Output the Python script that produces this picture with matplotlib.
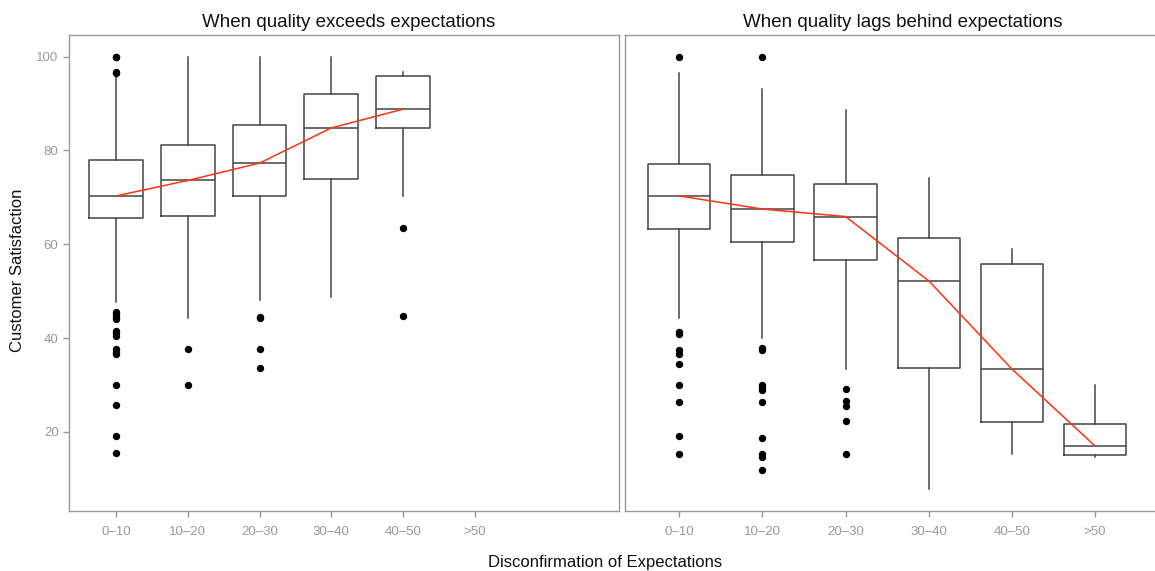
import matplotlib
matplotlib.use("Agg")
import matplotlib.pyplot as plt

plt.rcParams['font.family'] = ['Liberation Sans', 'DejaVu Sans']

categories = ["0\u201310", "10\u201320", "20\u201330", "30\u201340", "40\u201350", ">50"]

# quality exceeds expectations (no data in the >50 group)
exc_q1 = [65.6, 66.1, 70.3, 74.0, 84.8]
exc_med = [70.3, 73.6, 77.3, 84.8, 88.8]
exc_q3 = [78.0, 81.2, 85.4, 92.0, 95.8]
exc_lo = [47.6, 44.2, 48.1, 48.8, 70.3]
exc_hi = [96.5, 100.0, 100.0, 100.0, 96.7]
exc_out = [
    [100.0, 100.0, 96.8, 96.6, 45.6, 45.1, 44.6, 44.0, 41.6, 41.0, 40.4,
     37.6, 37.0, 36.6, 30.0, 25.8, 19.1, 15.5],
    [37.6, 30.0],
    [44.6, 44.2, 37.6, 33.6],
    [],
    [63.5, 44.7],
]

# quality lags behind expectations
lag_q1 = [63.3, 60.5, 56.6, 33.7, 22.1, 15.0]
lag_med = [70.3, 67.5, 65.9, 52.2, 33.4, 17.0]
lag_q3 = [77.2, 74.7, 72.8, 61.3, 55.8, 21.6]
lag_lo = [44.3, 40.1, 33.5, 7.8, 15.2, 14.7]
lag_hi = [96.6, 93.0, 88.6, 74.2, 59.0, 30.0]
lag_out = [
    [100.0, 41.4, 40.9, 37.4, 36.7, 34.4, 30.0, 26.3, 19.1, 15.2],
    [100.0, 37.8, 37.4, 30.0, 29.3, 28.9, 26.3, 18.8, 15.2, 14.6, 11.8],
    [29.1, 26.6, 25.5, 22.4, 15.2],
    [], [], [],
]

edge = "#999999"
box_col = "#444444"
red = "#FF3311"


def draw_panel(ax, q1, med, q3, lo, hi, out, title, title_x):
    stats = []
    for i in range(len(med)):
        stats.append(dict(q1=q1[i], med=med[i], q3=q3[i], whislo=lo[i],
                          whishi=hi[i], fliers=out[i]))
    pos = list(range(1, len(med) + 1))
    ax.bxp(stats, positions=pos, widths=0.75, showcaps=False,
           boxprops=dict(color=box_col, linewidth=1.1),
           whiskerprops=dict(color=box_col, linewidth=1.1),
           medianprops=dict(color=box_col, linewidth=1.1),
           flierprops=dict(marker='o', markerfacecolor='black',
                           markeredgecolor='black', markersize=4.3))
    # red line joining the medians
    ax.plot(pos, med, color=red, linewidth=1.1, zorder=5)
    ax.set_xticks(range(1, len(categories) + 1))
    ax.set_xticklabels(categories)
    ax.set_ylim(3.15, 104.6)
    ax.set_yticks([20, 40, 60, 80, 100])
    for s in ax.spines.values():
        s.set_color(edge)
        s.set_linewidth(1.0)
    ax.tick_params(colors=edge, labelcolor="#999999", labelsize=9.5,
                   length=4, width=1.0)
    ax.tick_params(axis='x', pad=7)
    ax.set_title(title, fontsize=13.5, x=title_x, pad=6, color="#111111")


fig = plt.figure(figsize=(11.55, 5.71), dpi=100)
ax1 = fig.add_axes([69 / 1155, 60 / 571, 550 / 1155, 476 / 571])
ax2 = fig.add_axes([624.7 / 1155, 60 / 571, (1155 - 624.7) / 1155, 476 / 571])

draw_panel(ax1, exc_q1, exc_med, exc_q3, exc_lo, exc_hi, exc_out,
           "When quality exceeds expectations", 0.508)
ax1.set_xlim(0.344, 8.01)

draw_panel(ax2, lag_q1, lag_med, lag_q3, lag_lo, lag_hi, lag_out,
           "When quality lags behind expectations", 0.525)
ax2.set_xlim(0.344, 6.72)
ax2.spines['right'].set_visible(False)
ax2.tick_params(axis='y', left=False, labelleft=False)

fig.text(18 / 1155, 1 - 270 / 571, "Customer Satisfaction", rotation=90,
         ha='center', va='center', fontsize=12, color="#111111")
fig.text(605 / 1155, 1 - 563 / 571, "Disconfirmation of Expectations",
         ha='center', va='center', fontsize=12, color="#111111")

fig.savefig("out.png", dpi=100)
